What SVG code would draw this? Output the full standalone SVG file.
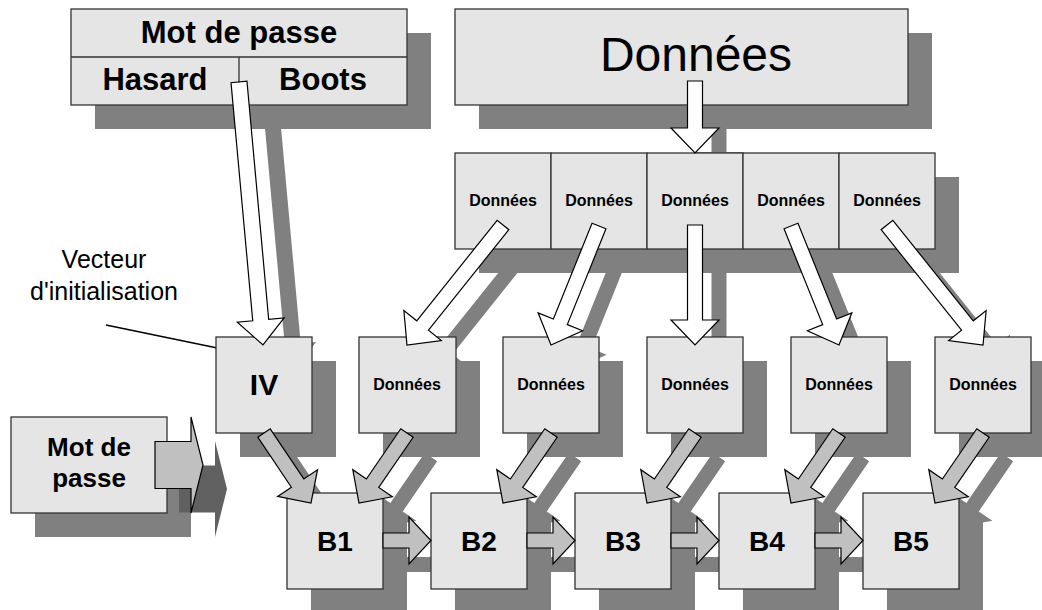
<svg xmlns="http://www.w3.org/2000/svg" width="1042" height="610" viewBox="0 0 1042 610">
  <style>
    .box{fill:#e5e5e5;stroke:#333;stroke-width:1.3}
    .sh{fill:#808080;stroke:none}
    .wa{fill:#fff;stroke:#000;stroke-width:1.2}
    .ga{fill:#c0c0c0;stroke:#000;stroke-width:1.2}
    text{font-family:"Liberation Sans",Arial,Helvetica,sans-serif;fill:#000;text-anchor:middle}
    .b{font-weight:bold}
  </style>
  <defs>
    <!-- block arrows, drawn along +x from the tail, then placed by transform -->
    <path id="a-top" d="M0,-7.5H47V-24L72,0L47,24V7.5H0Z" transform="translate(695,81) rotate(90)"/>
    <path id="a-iv" d="M0,-8H239V-23.5L264,0L239,23.5V8H0Z" transform="translate(239,82) rotate(84.79)"/>
    <path id="a-c1" d="M0,-7.5H128.7V-24L153.7,0L128.7,24V7.5H0Z" transform="translate(503,225) rotate(128.66)"/>
    <path id="a-c2" d="M0,-7.5H103.3V-24L128.3,0L103.3,24V7.5H0Z" transform="translate(599,226) rotate(111.97)"/>
    <path id="a-c3" d="M0,-7.5H95V-24L120,0L95,24V7.5H0Z" transform="translate(695,225) rotate(90)"/>
    <path id="a-c4" d="M0,-7.5H103.3V-24L128.3,0L103.3,24V7.5H0Z" transform="translate(791,226) rotate(68.03)"/>
    <path id="a-c5" d="M0,-7.5H128.7V-24L153.7,0L128.7,24V7.5H0Z" transform="translate(887,225) rotate(51.34)"/>
    <path id="g-iv" d="M0,-7.5H60.3V-24L84.3,0L60.3,24V7.5H0Z" transform="translate(264,433) rotate(56.13)"/>
    <path id="g-d1" d="M0,-7.5H60.9V-24L84.9,0L60.9,24V7.5H0Z" transform="translate(407,433) rotate(124.44)"/>
    <path id="g-d2" d="M0,-7.5H60.9V-24L84.9,0L60.9,24V7.5H0Z" transform="translate(551,433) rotate(124.44)"/>
    <path id="g-d3" d="M0,-7.5H60.9V-24L84.9,0L60.9,24V7.5H0Z" transform="translate(695,433) rotate(124.44)"/>
    <path id="g-d4" d="M0,-7.5H60.9V-24L84.9,0L60.9,24V7.5H0Z" transform="translate(839,433) rotate(124.44)"/>
    <path id="g-d5" d="M0,-7.5H60.9V-24L84.9,0L60.9,24V7.5H0Z" transform="translate(983,433) rotate(124.44)"/>
    <path id="h-12" d="M0,-7.5H26V-23.5L48,0L26,23.5V7.5H0Z" transform="translate(383,540.5)"/>
    <path id="h-23" d="M0,-7.5H26V-23.5L48,0L26,23.5V7.5H0Z" transform="translate(527,540.5)"/>
    <path id="h-34" d="M0,-7.5H26V-23.5L48,0L26,23.5V7.5H0Z" transform="translate(671,540.5)"/>
    <path id="h-45" d="M0,-7.5H26V-23.5L48,0L26,23.5V7.5H0Z" transform="translate(815,540.5)"/>
    <path id="a-mdp" d="M0,-23.5H36V-48L48,0L36,48V23.5H0Z" transform="translate(155,465)"/>
  </defs>

  <!-- drop shadows -->
  <g id="shadows" class="sh">
    <rect x="95" y="33" width="336" height="96"/>
    <rect x="479" y="33" width="453" height="96"/>
    <rect x="479" y="177" width="480" height="96"/>
    <rect x="240" y="361" width="96" height="96"/>
    <rect x="383" y="361" width="97" height="96"/>
    <rect x="527" y="361" width="96" height="96"/>
    <rect x="671" y="361" width="96" height="96"/>
    <rect x="815" y="361" width="96" height="96"/>
    <rect x="959" y="361" width="96" height="96"/>
    <rect x="35" y="441" width="156" height="96"/>
    <rect x="311" y="517" width="96" height="96"/>
    <rect x="455" y="517" width="96" height="96"/>
    <rect x="599" y="517" width="96" height="96"/>
    <rect x="743" y="517" width="96" height="96"/>
    <rect x="887" y="517" width="96" height="96"/>
    <g transform="translate(32,24)"><use href="#a-iv"/></g>
    <g transform="translate(24,24)">
      <use href="#a-top"/>
      <use href="#a-c1"/><use href="#a-c2"/><use href="#a-c3"/><use href="#a-c4"/><use href="#a-c5"/>
      <use href="#g-iv"/><use href="#g-d1"/><use href="#g-d2"/><use href="#g-d3"/><use href="#g-d4"/><use href="#g-d5"/>
      <use href="#h-12"/><use href="#h-23"/><use href="#h-34"/><use href="#h-45"/>
      <use href="#a-mdp" fill="#606060"/>
    </g>
  </g>

  <!-- password header with its two halves -->
  <g id="mot-de-passe-haut">
    <rect class="box" x="71" y="9" width="336" height="96"/>
    <path d="M71,57H407M239,57V105" stroke="#333" stroke-width="1.3" fill="none"/>
    <text class="b" x="239" y="43" font-size="31">Mot de passe</text>
    <text class="b" x="155" y="90" font-size="31">Hasard</text>
    <text class="b" x="323" y="90" font-size="31">Boots</text>
  </g>

  <g id="donnees">
    <rect class="box" x="455" y="9" width="453" height="96"/>
    <text x="696" y="71" font-size="48">Données</text>
  </g>

  <!-- data split into five cells -->
  <g id="cellule-1"><rect class="box" x="455" y="153" width="96" height="96"/><text class="b" x="503" y="206" font-size="16">Données</text></g>
  <g id="cellule-2"><rect class="box" x="551" y="153" width="96" height="96"/><text class="b" x="599" y="206" font-size="16">Données</text></g>
  <g id="cellule-3"><rect class="box" x="647" y="153" width="96" height="96"/><text class="b" x="695" y="206" font-size="16">Données</text></g>
  <g id="cellule-4"><rect class="box" x="743" y="153" width="96" height="96"/><text class="b" x="791" y="206" font-size="16">Données</text></g>
  <g id="cellule-5"><rect class="box" x="839" y="153" width="96" height="96"/><text class="b" x="887" y="206" font-size="16">Données</text></g>

  <g id="vecteur-label">
    <text x="104" y="268" font-size="25">Vecteur</text>
    <text x="104" y="300" font-size="25">d'initialisation</text>
    <line x1="106" y1="325" x2="227" y2="350" stroke="#000" stroke-width="1.5"/>
  </g>

  <g id="iv"><rect class="box" x="216" y="337" width="96" height="96"/><text class="b" x="264" y="395" font-size="30">IV</text></g>

  <g id="bloc-1"><rect class="box" x="359" y="337" width="97" height="96"/><text class="b" x="407" y="390" font-size="16">Données</text></g>
  <g id="bloc-2"><rect class="box" x="503" y="337" width="96" height="96"/><text class="b" x="551" y="390" font-size="16">Données</text></g>
  <g id="bloc-3"><rect class="box" x="647" y="337" width="96" height="96"/><text class="b" x="695" y="390" font-size="16">Données</text></g>
  <g id="bloc-4"><rect class="box" x="791" y="337" width="96" height="96"/><text class="b" x="839" y="390" font-size="16">Données</text></g>
  <g id="bloc-5"><rect class="box" x="935" y="337" width="96" height="96"/><text class="b" x="983" y="390" font-size="16">Données</text></g>

  <g id="mot-de-passe">
    <rect class="box" x="11" y="417" width="156" height="96"/>
    <text class="b" x="89" y="456" font-size="26">Mot de</text>
    <text class="b" x="89" y="487" font-size="26">passe</text>
  </g>

  <g id="b1"><rect class="box" x="287" y="493" width="96" height="96"/><text class="b" x="335" y="551" font-size="28">B1</text></g>
  <g id="b2"><rect class="box" x="431" y="493" width="96" height="96"/><text class="b" x="479" y="551" font-size="28">B2</text></g>
  <g id="b3"><rect class="box" x="575" y="493" width="96" height="96"/><text class="b" x="623" y="551" font-size="28">B3</text></g>
  <g id="b4"><rect class="box" x="719" y="493" width="96" height="96"/><text class="b" x="767" y="551" font-size="28">B4</text></g>
  <g id="b5"><rect class="box" x="863" y="493" width="96" height="96"/><text class="b" x="911" y="551" font-size="28">B5</text></g>

  <!-- connectors -->
  <g id="connectors">
    <use href="#a-top" class="wa"/>
    <use href="#a-iv" class="wa"/>
    <use href="#a-c1" class="wa"/>
    <use href="#a-c2" class="wa"/>
    <use href="#a-c3" class="wa"/>
    <use href="#a-c4" class="wa"/>
    <use href="#a-c5" class="wa"/>
    <use href="#g-iv" class="ga"/>
    <use href="#g-d1" class="ga"/>
    <use href="#g-d2" class="ga"/>
    <use href="#g-d3" class="ga"/>
    <use href="#g-d4" class="ga"/>
    <use href="#g-d5" class="ga"/>
    <use href="#h-12" class="ga"/>
    <use href="#h-23" class="ga"/>
    <use href="#h-34" class="ga"/>
    <use href="#h-45" class="ga"/>
    <use href="#a-mdp" class="ga"/>
  </g>
</svg>
